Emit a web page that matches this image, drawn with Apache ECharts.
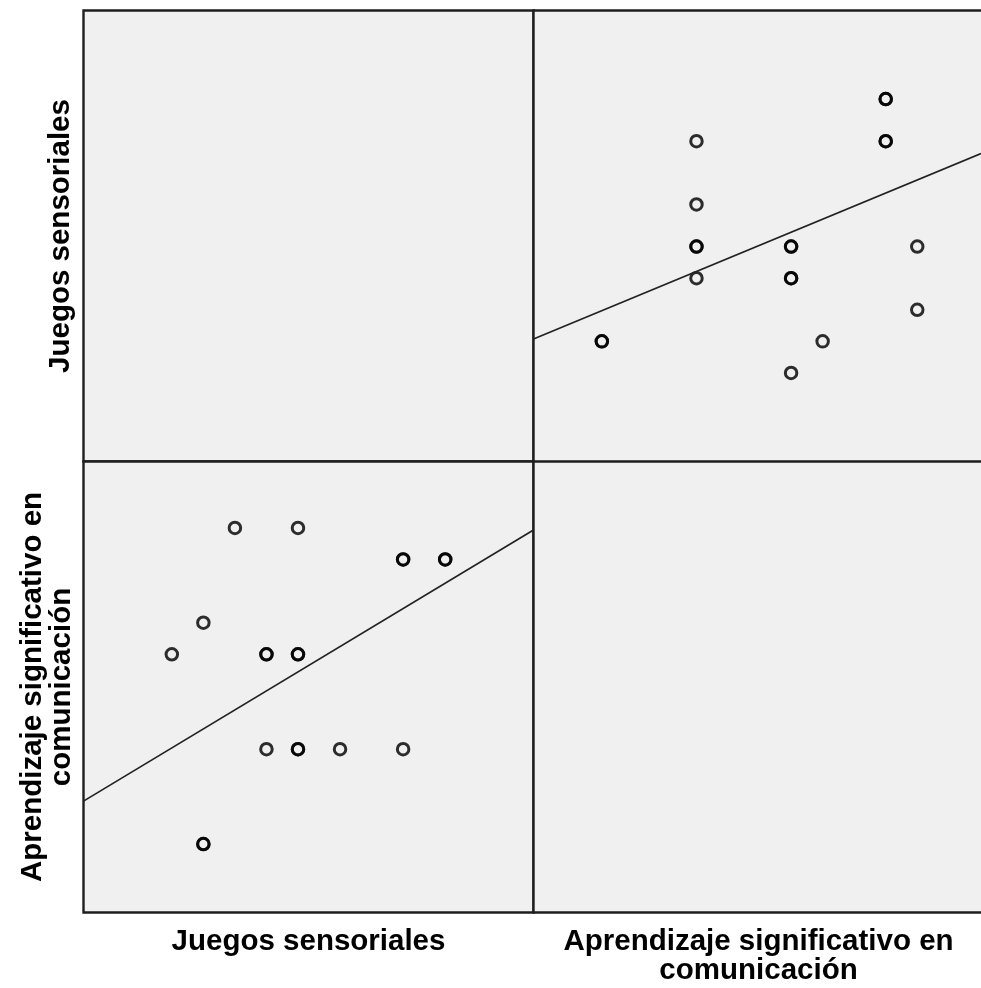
<!DOCTYPE html>
<html>
<head>
<meta charset="utf-8">
<script src="https://cdn.jsdelivr.net/npm/echarts@6/dist/echarts.min.js"></script>
<style>html,body{margin:0;padding:0;background:#fff;}#c{width:981px;height:988px;}</style>
</head>
<body>
<div id="c"></div>
<script>
// Variable names
const varNames = ['Juegos sensoriales', 'Aprendizaje significativo en\ncomunicación'];
// Per-case values (overlapping cases repeated)
const juegos =       [42, 48, 58, 58, 62, 62, 39, 36, 45, 45, 48, 48, 45, 48, 48, 52, 58, 39, 39];
const aprendizaje =  [60, 60, 57, 57, 57, 57, 51, 48, 48, 48, 48, 48, 39, 39, 39, 39, 39, 30, 30];
// Axis ranges for each variable
const juegosRange = [27.6, 70.4];
const aprendRange = [23.5, 66.3];
// Fit lines: [intercept, slope]
const fitAonJ = [17.48, 0.601];   // Aprendizaje = a + b * Juegos
const fitJonA = [29.5, 0.4136];   // Juegos = c + d * Aprendizaje

const chart = echarts.init(document.getElementById('c'), null, {renderer: 'canvas'});

const CW = 981;
const X0 = 83.5, Y0 = 10.5, W = 450, H = 451;
const visW = CW - (X0 + W);           // right column is cut by the page edge
const frac = visW / W;
const panels = [[0,0],[1,0],[0,1],[1,1]]; // [col,row]
const xRanges = [juegosRange, [aprendRange[0], aprendRange[0] + (aprendRange[1] - aprendRange[0]) * frac]];
const yRanges = [juegosRange, aprendRange];
const frameColor = '#1e1e1e', frameW = 2.4;

const grids = panels.map(([c, r]) => ({
  left: X0 + c * W, top: Y0 + r * H, width: c === 0 ? W : visW, height: H,
  show: true, backgroundColor: '#f0f0f0',
  borderColor: frameColor, borderWidth: c === 0 ? frameW : 0, containLabel: false
}));
const hidden = {show: false};
const xAxes = panels.map(([c, r], i) => ({
  type: 'value', gridIndex: i, min: xRanges[c][0], max: xRanges[c][1],
  axisLine: hidden, axisTick: hidden, axisLabel: hidden, splitLine: hidden
}));
const yAxes = panels.map(([c, r], i) => ({
  type: 'value', gridIndex: i, min: yRanges[r][0], max: yRanges[r][1],
  axisLine: hidden, axisTick: hidden, axisLabel: hidden, splitLine: hidden
}));

const pointStyle = {color: 'rgba(0,0,0,0)', borderColor: 'rgba(0,0,0,0.82)', borderWidth: 3, opacity: 1};

// Panel 1: x = Aprendizaje, y = Juegos ; Panel 2: x = Juegos, y = Aprendizaje
const trData = aprendizaje.map((a, i) => [a, juegos[i]]);
const blData = juegos.map((j, i) => [j, aprendizaje[i]]);

const series = [
  {type: 'scatter', xAxisIndex: 1, yAxisIndex: 1, data: trData, symbol: 'circle', symbolSize: 11.5, itemStyle: pointStyle, silent: true},
  {type: 'scatter', xAxisIndex: 2, yAxisIndex: 2, data: blData, symbol: 'circle', symbolSize: 11.5, itemStyle: pointStyle, silent: true},
  {type: 'line', xAxisIndex: 1, yAxisIndex: 1, symbol: 'none', silent: true,
   lineStyle: {color: '#222', width: 1.7},
   data: xRanges[1].map(a => [a, fitJonA[0] + fitJonA[1] * a])},
  {type: 'line', xAxisIndex: 2, yAxisIndex: 2, symbol: 'none', silent: true,
   lineStyle: {color: '#222', width: 1.7},
   data: juegosRange.map(j => [j, fitAonJ[0] + fitAonJ[1] * j])}
];

const font = {fontFamily: 'Liberation Sans, Arial, sans-serif', fontWeight: 'bold', fontSize: 29.5, fill: '#000', lineHeight: 29};
const lineStyle = {stroke: frameColor, lineWidth: frameW};
const graphic = [
  {type: 'text', x: X0 + W/2, y: 927, style: Object.assign({text: varNames[0], align: 'center', verticalAlign: 'top'}, font)},
  {type: 'text', x: X0 + W + W/2, y: 927, style: Object.assign({text: varNames[1], align: 'center', verticalAlign: 'top'}, font)},
  {type: 'text', x: 61, y: Y0 + H/2, rotation: Math.PI/2, style: Object.assign({text: varNames[0], align: 'center', verticalAlign: 'middle'}, font)},
  {type: 'text', x: 47, y: Y0 + H + H/2, rotation: Math.PI/2, style: Object.assign({text: varNames[1], align: 'center', verticalAlign: 'middle'}, font)},
  // frame edges of the right column (its right edge lies beyond the page)
  {type: 'line', shape: {x1: X0 + W, y1: Y0, x2: CW + 5, y2: Y0}, style: lineStyle},
  {type: 'line', shape: {x1: X0 + W, y1: Y0 + H, x2: CW + 5, y2: Y0 + H}, style: lineStyle},
  {type: 'line', shape: {x1: X0 + W, y1: Y0 + 2 * H, x2: CW + 5, y2: Y0 + 2 * H}, style: lineStyle},
  {type: 'line', shape: {x1: X0 + W, y1: Y0 - 1, x2: X0 + W, y2: Y0 + 2 * H + 1}, style: lineStyle}
];

chart.setOption({
  animation: false,
  grid: grids, xAxis: xAxes, yAxis: yAxes, series: series, graphic: graphic
});
</script>
</body>
</html>
